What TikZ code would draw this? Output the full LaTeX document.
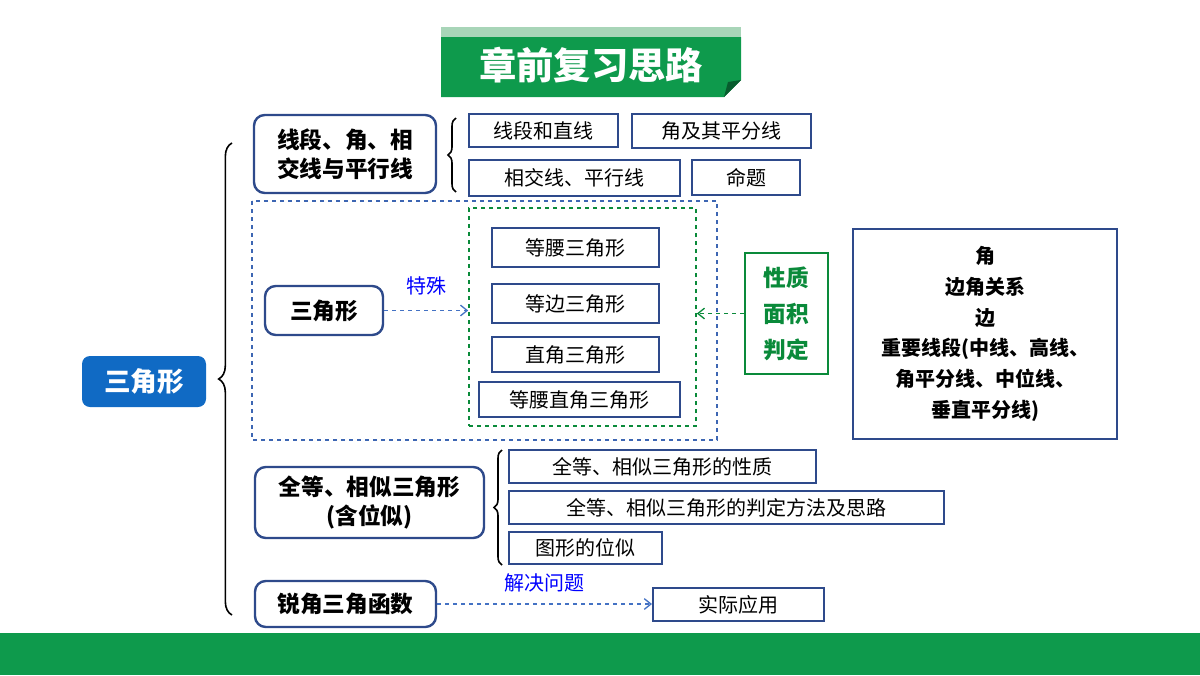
\documentclass[tikz,border=0pt]{standalone}
\usepackage{fontspec}
\setmainfont{Noto Sans CJK SC}
\usetikzlibrary{fit,decorations.pathreplacing,arrows.meta}
\definecolor{boxblue}{HTML}{2E4A8B}
\definecolor{mainblue}{HTML}{106AC4}
\definecolor{bargreen}{HTML}{0E9A4C}
\definecolor{lightgreen}{HTML}{A8D5B8}
\definecolor{dashblue}{HTML}{4472C4}
\definecolor{darkgreen}{HTML}{0A8A3A}
\tikzset{
  topic/.style={draw=boxblue,line width=1.8pt,rounded corners=8pt,inner sep=0pt},
  topictext/.style={align=center,font=\bfseries\fontsize{17}{22}\selectfont},
  leaf/.style={draw=boxblue,line width=1.5pt,inner sep=0pt},
  leaftext/.style={align=center,font=\fontsize{15}{18}\selectfont},
  brc/.style={decorate,decoration={brace,amplitude=#1},line width=1.2pt},
  link/.style={-{Straight Barb[length=5pt,width=8pt]},dashed,line width=1pt},
}
\begin{document}
\begin{tikzpicture}[x=0.75pt,y=-0.75pt]
\useasboundingbox (0,0) rectangle (1200,675);
% banner and bottom bar
\fill[lightgreen] (441,27) rectangle (741,37);
\fill[bargreen] (441,37) -- (741,37) -- (741,80) -- (724,97) -- (441,97) -- cycle;
\fill[bargreen!60!black] (741,80) -- (724,97) -- (728,82) -- cycle;
\node[text=white,font=\bfseries\fontsize{28}{30}\selectfont] (title) at (591,65) {章前复习思路};
\fill[bargreen] (0,633) rectangle (1200,675);

% root
\node[fill=mainblue,rounded corners=6pt,inner sep=0pt,fit={(82,356)(206,407)}] (root) {};
\node[text=white,font=\bfseries\fontsize{20}{22}\selectfont] at (root) {三角形};
\draw[brc=10pt] (232,615) -- (232,143);

% lines and angles
\node[topic,fit={(254,115)(436,193)}] (lines) {};
\node[topictext] at (lines) {线段、角、相\\交线与平行线};
\draw[brc=6pt] (456,192) -- (456,118);
\node[leaf,fit={(469,114)(618,147)}] (seg) {};
\node[leaftext] at (seg) {线段和直线};
\node[leaf,fit={(632,114)(811,148)}] (ang) {};
\node[leaftext] at (ang) {角及其平分线};
\node[leaf,fit={(469,160)(680,196)}] (par) {};
\node[leaftext] at (par) {相交线、平行线};
\node[leaf,fit={(692,160)(800,195)}] (prop) {};
\node[leaftext] at (prop) {命题};

% triangles
\draw[dashblue!70!boxblue,dashed,line width=1.2pt] (252,201) rectangle (717,440);
\node[topic,fit={(265,286)(383,335)}] (tri) {};
\node[topictext] at (tri) {三角形};
\node[draw=darkgreen,dashed,line width=1.2pt,inner sep=0pt,fit={(469,208)(696,426)}] (special) {};
\node[leaf,fit={(492,228)(659,267)}] (iso) {};
\node[leaftext] at (iso) {等腰三角形};
\node[leaf,fit={(492,284)(659,323)}] (equi) {};
\node[leaftext] at (equi) {等边三角形};
\node[leaf,fit={(492,337)(659,372)}] (right) {};
\node[leaftext] at (right) {直角三角形};
\node[leaf,fit={(479,382)(680,417)}] (isoright) {};
\node[leaftext] at (isoright) {等腰直角三角形};
\draw[link,dashblue] (tri.east) -- (special.west |- tri.east)
  node[midway,above=8pt,text=blue,font=\fontsize{15}{16}\selectfont] (spec) {特殊};
\node[draw=darkgreen,line width=1.5pt,inner sep=0pt,fit={(745,253)(828,374)}] (study) {};
\node[text=darkgreen,align=center,font=\bfseries\fontsize{17}{27}\selectfont] at (study) {性质\\面积\\判定};
\draw[link,darkgreen] (study.west) -- (special.east |- study.west);
\node[leaf,fit={(853,229)(1117,439)}] (facts) {};
\node[align=center,font=\bfseries\fontsize{15}{23}\selectfont] at (facts) {角\\边角关系\\边\\重要线段(中线、高线、\\角平分线、中位线、\\垂直平分线)};

% congruence and similarity
\node[topic,fit={(255,467)(484,538)}] (cong) {};
\node[topictext] at (cong) {全等、相似三角形\\(含位似)};
\draw[brc=6pt] (502,565) -- (502,450);
\node[leaf,fit={(509,450)(816,483)}] (cprop) {};
\node[leaftext] at (cprop) {全等、相似三角形的性质};
\node[leaf,fit={(509,491)(944,524)}] (cjudge) {};
\node[leaftext] at (cjudge) {全等、相似三角形的判定方法及思路};
\node[leaf,fit={(509,532)(662,564)}] (homo) {};
\node[leaftext] at (homo) {图形的位似};

% trigonometry
\node[topic,fit={(255,581)(436,627)}] (trig) {};
\node[topictext] at (trig) {锐角三角函数};
\node[leaf,fit={(653,588)(824,621)}] (app) {};
\node[leaftext] at (app) {实际应用};
\draw[link,dashblue] (trig.east) -- (app.west |- trig.east)
  node[midway,above=5pt,text=blue,font=\fontsize{15}{16}\selectfont] (solve) {解决问题};
\end{tikzpicture}
\end{document}
